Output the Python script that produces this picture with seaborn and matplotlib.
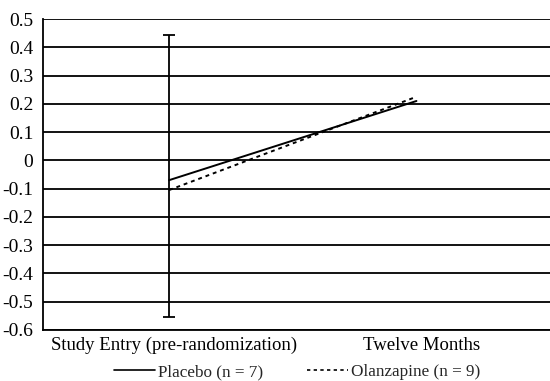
import numpy as np
import pandas as pd
import matplotlib
matplotlib.use("Agg")
import matplotlib.pyplot as plt
import matplotlib.transforms as mtransforms
import seaborn as sns

# values
timepoints = ["Study Entry (pre-randomization)", "Twelve Months"]
placebo = [-0.07, 0.21]
olanzapine = [-0.105, 0.225]
group_labels = ["Placebo (n = 7)", "Olanzapine (n = 9)"]
# single error bar drawn at study entry
err_center = -0.055
err_half = 0.5
yticks = [0.5, 0.4, 0.3, 0.2, 0.1, 0, -0.1, -0.2, -0.3, -0.4, -0.5, -0.6]
ytick_labels = ["0.5", "0.4", "0.3", "0.2", "0.1", "0", "-0.1", "-0.2", "-0.3", "-0.4", "-0.5", "-0.6"]

data = pd.DataFrame({
    "time": timepoints * 2,
    "value": placebo + olanzapine,
    "group": [group_labels[0]] * 2 + [group_labels[1]] * 2,
})

sns.set_style("white")
plt.rcParams["font.family"] = ["Liberation Serif", "DejaVu Serif"]

fig = plt.figure(figsize=(5.5, 3.81), dpi=100)
ax = fig.add_axes([43 / 550, 51 / 381, 507 / 550, 311 / 381])

for y in yticks:
    ax.axhline(y, color="black", lw=1.3, zorder=1)

sns.lineplot(data=data, x="time", y="value", hue="group", style="group",
             palette=["black", "black"], dashes={group_labels[0]: "", group_labels[1]: (2, 2)},
             linewidth=1.4, ax=ax, zorder=3, legend=False)

ax.errorbar([0], [err_center], yerr=[err_half], fmt="none", ecolor="black",
            elinewidth=1.3, capsize=4, capthick=1.3, zorder=2)

ax.set_xlim(-0.51, 1.54)
ax.set_ylim(-0.6, 0.5)
ax.set_yticks(yticks)
ax.set_yticklabels(ytick_labels)
ax.set_xticks([0, 1])
ax.set_xticklabels(timepoints)
ax.set_xlabel("")
ax.set_ylabel("")

for side in ["top", "right"]:
    ax.spines[side].set_visible(False)
for side in ["left", "bottom"]:
    ax.spines[side].set_color("black")
    ax.spines[side].set_linewidth(1.3)

ax.tick_params(axis="y", direction="out", length=5, width=1.3, labelsize=14, pad=2, colors="black")
ax.tick_params(axis="x", direction="inout", length=8, width=1.3, labelsize=13.5, pad=1, colors="black")

# category labels sit a little right of their ticks in the original
shift = mtransforms.ScaledTranslation(5 / 100, 0, fig.dpi_scale_trans)
for lbl in ax.get_xticklabels():
    lbl.set_transform(lbl.get_transform() + shift)

handles = [
    plt.Line2D([], [], color="black", lw=1.2),
    plt.Line2D([], [], color="black", lw=1.2, dashes=(2, 2)),
]
fig.legend(handles, group_labels, loc="center", bbox_to_anchor=(0.54, 1 - 372 / 381),
           ncol=2, frameon=False, fontsize=12.3, handlelength=2.4, handletextpad=0.15,
           columnspacing=2.6)

fig.savefig("out.png", dpi=100)
